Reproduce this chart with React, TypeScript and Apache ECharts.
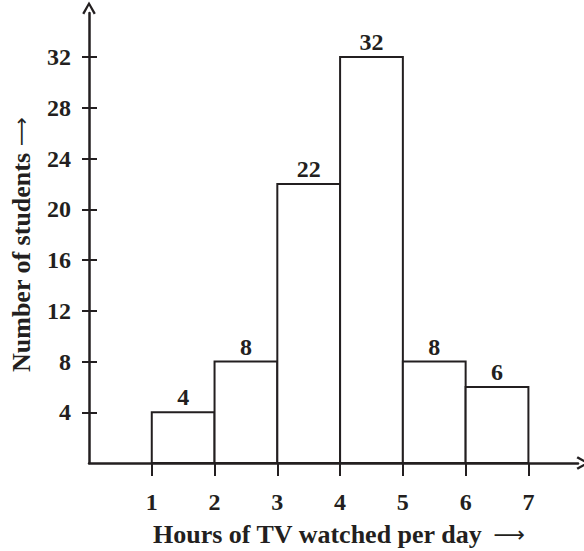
import React, { useEffect, useRef } from "react";
import * as echarts from "echarts";

const classStarts = [1, 2, 3, 4, 5, 6];
const classEnds = [2, 3, 4, 5, 6, 7];
const frequencies = [4, 8, 22, 32, 8, 6];
const xTickValues = [1, 2, 3, 4, 5, 6, 7];
const yTickValues = [4, 8, 12, 16, 20, 24, 28, 32];
const xTitle = "Hours of TV watched per day";
const yTitle = "Number of students";
const ARROW = "\u27F6";

const INK = "#231f20";
const FONT = "'Liberation Serif', 'Times New Roman', serif";
const CHEVRON = "path://M0,8.6 L5,0 L10,8.6 L8.5,9.6 L5,3.2 L1.5,9.6 Z";

export default function App() {
  const ref = useRef<HTMLDivElement>(null);
  useEffect(() => {
    if (!ref.current) return;
    const chart = echarts.init(ref.current, null, { renderer: "svg" });
    const data = classStarts.map((s, i) => [s, classEnds[i], frequencies[i]]);
    const labelStyle = {
      color: INK,
      fontFamily: FONT,
      fontWeight: "bold",
      fontSize: 24,
    };
    chart.setOption({
      animation: false,
      backgroundColor: "#fff",
      grid: { left: 89, right: 6, top: 13, bottom: 88 },
      xAxis: {
        type: "value",
        min: 0,
        max: 7.79,
        interval: 1,
        splitLine: { show: false },
        axisLine: {
          onZero: false,
          lineStyle: { color: INK, width: 2.5 },
          symbol: ["none", CHEVRON],
          symbolSize: [15, 13],
          symbolOffset: [0, 5],
        },
        axisTick: {
          show: true,
          length: 13,
          customValues: xTickValues,
          lineStyle: { color: INK, width: 2 },
        },
        axisLabel: { customValues: xTickValues, margin: 27, ...labelStyle },
      },
      yAxis: [
        {
          type: "value",
          min: 0,
          max: 35.47,
          interval: 4,
          splitLine: { show: false },
          axisLine: {
            onZero: false,
            lineStyle: { color: INK, width: 2.5 },
            symbol: ["none", CHEVRON],
            symbolSize: [15, 13],
            symbolOffset: [0, 5],
          },
          axisTick: {
            show: true,
            length: 7,
            customValues: yTickValues,
            lineStyle: { color: INK, width: 2 },
          },
          axisLabel: { customValues: yTickValues, margin: 18, ...labelStyle },
        },
        {
          type: "value",
          position: "left",
          min: 0,
          max: 35.47,
          interval: 4,
          splitLine: { show: false },
          axisLine: { show: false },
          axisTick: {
            show: true,
            inside: true,
            length: 8,
            customValues: yTickValues,
            lineStyle: { color: INK, width: 2 },
          },
          axisLabel: { show: false },
        },
      ],
      series: [
        {
          type: "custom",
          data,
          encode: { x: [0, 1], y: 2 },
          renderItem: (params: any, api: any) => {
            const s = api.value(0);
            const e = api.value(1);
            const v = api.value(2);
            const p0 = api.coord([s, 0]);
            const p1 = api.coord([e, v]);
            return {
              type: "rect",
              shape: { x: p0[0], y: p1[1], width: p1[0] - p0[0], height: p0[1] - p1[1] },
              style: { fill: "#fff", stroke: INK, lineWidth: 2 },
              textContent: {
                style: {
                  text: String(v),
                  fill: INK,
                  fontFamily: FONT,
                  fontWeight: "bold",
                  fontSize: 24,
                },
              },
              textConfig: { position: "top", distance: 2 },
            };
          },
          z: 1,
        },
      ],
      graphic: [
        {
          type: "text",
          x: 153,
          y: 521,
          style: {
            text: `${xTitle} {a|${ARROW}}`,
            fill: INK,
            font: `bold 26px ${FONT}`,
            rich: {
              a: {
                fontFamily: "'DejaVu Sans', sans-serif",
                fontWeight: "normal",
                fontSize: 22,
                fill: INK,
                padding: [0, 0, 0, 4],
              },
            },
          },
        },
        {
          type: "text",
          x: 8,
          y: 372,
          rotation: Math.PI / 2,
          style: {
            text: `${yTitle} {a|${ARROW}}`,
            fill: INK,
            font: `bold 26px ${FONT}`,
            rich: {
              a: {
                fontFamily: "'DejaVu Sans', sans-serif",
                fontWeight: "normal",
                fontSize: 20,
                fill: INK,
              },
            },
          },
        },
      ],
    });
    return () => chart.dispose();
  }, []);
  return (
    <div
      ref={ref}
      style={{ position: "fixed", left: 0, top: 0, width: 584, height: 551 }}
    />
  );
}
